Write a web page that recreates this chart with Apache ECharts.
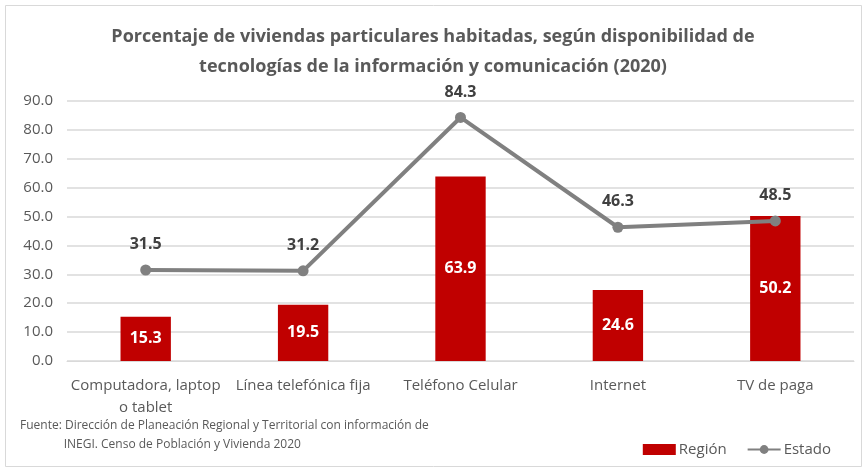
<!DOCTYPE html>
<html>
<head>
<meta charset="utf-8">
<script src="https://cdn.jsdelivr.net/npm/echarts@6/dist/echarts.min.js"></script>
<style>
  html, body { margin: 0; padding: 0; background: #fff; }
  #chart { width: 866px; height: 472px; }
</style>
</head>
<body>
<div id="chart"></div>
<script>
var categorias = ['Computadora, laptop\no tablet', 'Línea telefónica fija', 'Teléfono Celular', 'Internet', 'TV de paga'];
var region = [15.3, 19.5, 63.9, 24.6, 50.2];
var estado = [31.5, 31.2, 84.3, 46.3, 48.5];

var fuente = 'Fuente: Dirección de Planeación Regional y Territorial con información de\n              INEGI. Censo de Población y Vivienda 2020';

var myChart = echarts.init(document.getElementById('chart'));

var option = {
    backgroundColor: '#fff',
    textStyle: { fontFamily: 'Open Sans' },
    title: {
        text: 'Porcentaje de viviendas particulares habitadas, según disponibilidad de\ntecnologías de la información y comunicación (2020)',
        left: 'center',
        top: 17,
        textStyle: {
            fontSize: 18,
            fontWeight: 'bold',
            color: '#595959',
            lineHeight: 30
        }
    },
    graphic: [
        {
            type: 'rect',
            shape: { x: 5.5, y: 5.5, width: 856, height: 461 },
            style: { fill: 'none', stroke: '#d9d9d9', lineWidth: 1 },
            silent: true
        },
        {
            type: 'text',
            left: 20,
            top: 416,
            style: { text: fuente, fontSize: 12, fill: '#595959', lineHeight: 19, fontFamily: 'Open Sans' }
        }
    ],
    legend: {
        right: 30,
        top: 437,
        itemGap: 20,
        itemWidth: 33,
        itemHeight: 11,
        textStyle: { fontSize: 15, color: '#595959', padding: [0, 0, 0, -2] },
        data: [
            { name: 'Región', icon: 'rect' },
            { name: 'Estado' }
        ]
    },
    grid: {
        left: 67,
        right: 12,
        top: 101,
        bottom: 111
    },
    xAxis: {
        type: 'category',
        data: categorias,
        axisTick: { show: false },
        axisLine: { lineStyle: { color: '#d9d9d9' } },
        axisLabel: { fontSize: 15, color: '#595959', interval: 0, margin: 14, lineHeight: 22 }
    },
    yAxis: {
        type: 'value',
        min: 0,
        max: 90,
        interval: 10,
        axisLabel: {
            fontSize: 15,
            color: '#595959',
            margin: 14,
            formatter: function (v) { return v.toFixed(1); }
        },
        splitLine: { lineStyle: { color: '#d9d9d9', width: 1.5 } }
    },
    series: [
        {
            name: 'Región',
            type: 'bar',
            data: region,
            barWidth: '32%',
            itemStyle: { color: '#c00000' },
            label: {
                show: true,
                position: 'inside',
                color: '#fff',
                fontWeight: 'bold',
                fontSize: 16,
                formatter: function (p) { return p.value.toFixed(1); }
            }
        },
        {
            name: 'Estado',
            type: 'line',
            data: estado,
            symbol: 'circle',
            symbolSize: 11,
            lineStyle: { width: 4, color: '#808080' },
            itemStyle: { color: '#808080' },
            label: {
                show: true,
                position: 'top',
                distance: 12,
                color: '#404040',
                fontWeight: 'bold',
                fontSize: 16,
                formatter: function (p) { return p.value.toFixed(1); }
            }
        }
    ]
};

myChart.setOption(option);
</script>
</body>
</html>
